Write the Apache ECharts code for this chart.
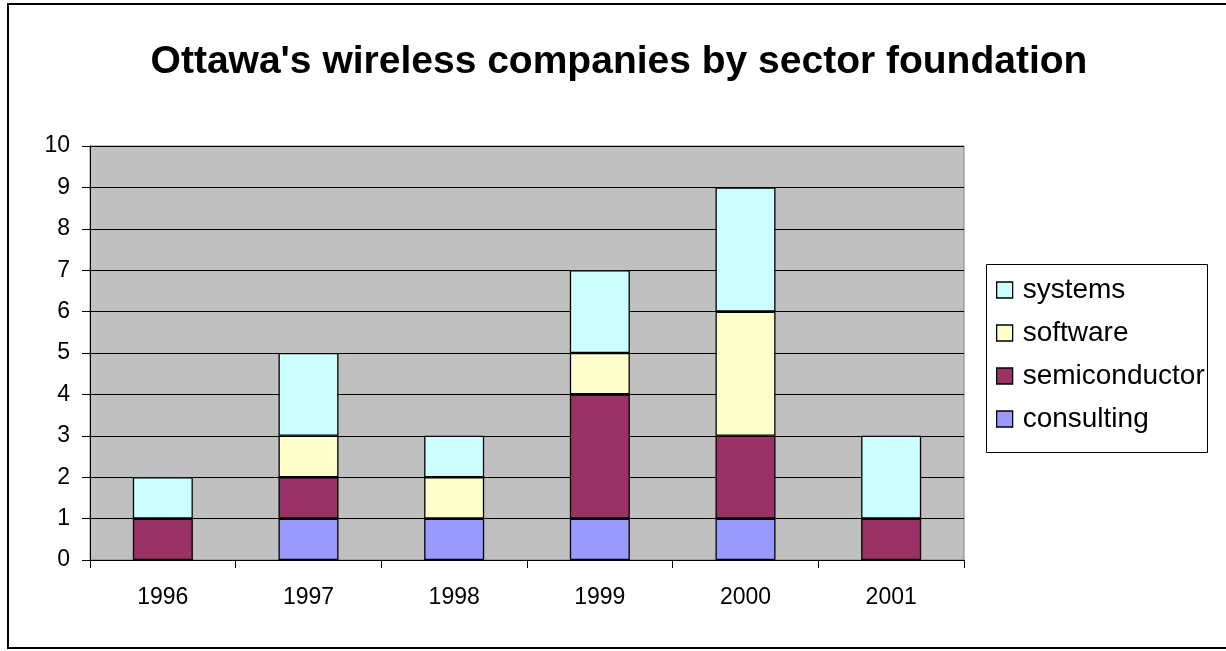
<!DOCTYPE html>
<html>
<head>
<meta charset="utf-8">
<script src="https://cdn.jsdelivr.net/npm/echarts@6/dist/echarts.min.js"></script>
<style>
  html, body { margin: 0; padding: 0; background: #fff; }
  #chart { width: 1226px; height: 651px; }
</style>
</head>
<body>
<div id="chart"></div>
<script>
// Companies founded per year, split by sector
const years = ['1996', '1997', '1998', '1999', '2000', '2001'];
const consulting    = [0, 1, 1, 1, 1, 0];
const semiconductor = [1, 1, 0, 3, 2, 1];
const software      = [0, 1, 1, 1, 3, 0];
const systems       = [1, 2, 1, 2, 3, 2];
const yTicks = [0, 1, 2, 3, 4, 5, 6, 7, 8, 9, 10];

const FONT = '"Liberation Sans", Arial, sans-serif';

const chart = echarts.init(document.getElementById('chart'), null, { renderer: 'canvas' });

function barSeries(name, data, color) {
  return {
    name: name,
    type: 'bar',
    stack: 'total',
    data: data,
    barWidth: 60,
    itemStyle: { color: color, borderColor: '#000', borderWidth: 1.3 },
    emphasis: { disabled: true }
  };
}

chart.setOption({
  animation: false,
  backgroundColor: '#fff',
  title: {
    text: "Ottawa's wireless companies by sector foundation",
    left: 614,
    textAlign: 'center',
    top: 38,
    textStyle: { fontFamily: FONT, fontSize: 39, fontWeight: 'bold', color: '#000' }
  },
  grid: {
    left: 90, right: 262, top: 146, bottom: 91,
    show: true, backgroundColor: '#c0c0c0', borderColor: '#808080', borderWidth: 1
  },
  legend: {
    orient: 'vertical',
    left: 991,
    top: 271,
    itemWidth: 16,
    itemHeight: 16,
    itemGap: 15,
    icon: 'rect',
    data: ['systems', 'software', 'semiconductor', 'consulting'],
    textStyle: { fontFamily: FONT, fontSize: 28, color: '#000', padding: [0, 0, 0, 5] },
    itemStyle: { borderColor: '#000', borderWidth: 1.3 },
    selectedMode: false
  },
  xAxis: {
    type: 'category',
    data: years,
    axisLine: { lineStyle: { color: '#000', width: 1 } },
    axisTick: { show: true, alignWithLabel: false, length: 8, lineStyle: { color: '#000' } },
    axisLabel: { fontFamily: FONT, fontSize: 23, color: '#000', margin: 26 },
    splitLine: { show: false }
  },
  yAxis: {
    type: 'value',
    min: yTicks[0],
    max: yTicks[yTicks.length - 1],
    interval: 1,
    axisLine: { show: true, lineStyle: { color: '#000', width: 1 } },
    axisTick: { show: true, length: 8, lineStyle: { color: '#000' } },
    axisLabel: { fontFamily: FONT, fontSize: 23, color: '#000', margin: 20 },
    splitLine: { show: true, lineStyle: { color: '#000', width: 1 } }
  },
  series: [
    barSeries('consulting', consulting, '#9999ff'),
    barSeries('semiconductor', semiconductor, '#993366'),
    barSeries('software', software, '#ffffcc'),
    barSeries('systems', systems, '#ccffff')
  ],
  graphic: [
    {
      type: 'rect',
      silent: true,
      z: -1,
      shape: { x: 8, y: 4, width: 1230, height: 644 },
      style: { fill: 'none', stroke: '#000', lineWidth: 2 }
    },
    {
      type: 'rect',
      silent: true,
      z: -1,
      shape: { x: 986.5, y: 264.5, width: 221, height: 188 },
      style: { fill: '#fff', stroke: '#000', lineWidth: 1 }
    }
  ]
});
</script>
</body>
</html>
